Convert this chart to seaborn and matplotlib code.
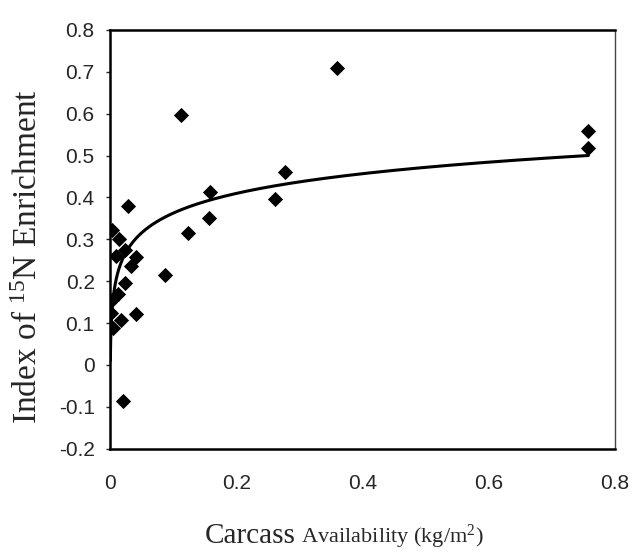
import numpy as np
import pandas as pd
import matplotlib
matplotlib.use("Agg")
import matplotlib.pyplot as plt
import seaborn as sns

# Dados (disponibilidade de carcaca x indice de enriquecimento 15N)
carcass = [0.360, 0.112, 0.758, 0.758, 0.277, 0.158, 0.261, 0.028, 0.157, 0.123,
           0.004, 0.015, 0.0095, 0.024, 0.042, 0.033, 0.024, 0.087, 0.013, 0.004,
           0.001, 0.041, 0.018, 0.005, 0.020]
enrichment = [0.710, 0.598, 0.559, 0.519, 0.460, 0.414, 0.397, 0.380, 0.351, 0.315,
              0.323, 0.300, 0.261, 0.275, 0.257, 0.237, 0.195, 0.215, 0.169, 0.156,
              0.124, 0.122, 0.108, 0.088, -0.085]

# Ajuste logaritmico (y = a + b ln x) estimado da curva
fit_a = 0.519
fit_b = 0.068
fit_xmin = 0.00056
fit_xmax = 0.758

x_ticks = [0, 0.2, 0.4, 0.6, 0.8]
x_labels = ["0", "0.2", "0.4", "0.6", "0.8"]
y_ticks = [-0.2, -0.1, 0, 0.1, 0.2, 0.3, 0.4, 0.5, 0.6, 0.7, 0.8]
y_labels = ["-0.2", "-0.1", "0", "0.1", "0.2", "0.3", "0.4", "0.5", "0.6", "0.7", "0.8"]

df = pd.DataFrame({"carcass": carcass, "enrichment": enrichment})

sns.set_style("white")
plt.rcParams["font.family"] = ["Liberation Sans", "DejaVu Sans"]
plt.rcParams["mathtext.fontset"] = "custom"
plt.rcParams["mathtext.rm"] = "Liberation Serif"
plt.rcParams["mathtext.it"] = "Liberation Serif:italic"
serif = "Liberation Serif"

fig = plt.figure(figsize=(6.32, 5.54), dpi=100)
ax = fig.add_axes([0.174, 0.190, 0.799, 0.756])

xs = np.geomspace(fit_xmin, fit_xmax, 400)
curve = pd.DataFrame({"x": xs, "y": fit_a + fit_b * np.log(xs)})
sns.lineplot(data=curve, x="x", y="y", color="black", lw=2.2, ax=ax)
sns.scatterplot(data=df, x="carcass", y="enrichment", marker="D", color="black",
                s=60, edgecolor="black", linewidth=0, ax=ax, zorder=3)

ax.set_xlim(0, 0.8)
ax.set_ylim(-0.2, 0.8)
ax.set_xticks(x_ticks)
ax.set_xticklabels(x_labels)
ax.set_yticks(y_ticks)
ax.set_yticklabels(y_labels)
ax.tick_params(axis="y", direction="out", length=3, width=1, pad=8, labelsize=15, left=True)
ax.tick_params(axis="x", direction="out", length=0, pad=18, labelsize=15, bottom=True)

for side in ["left", "bottom", "top"]:
    ax.spines[side].set_linewidth(1.8)
    ax.spines[side].set_color("black")
ax.spines["right"].set_linewidth(1.0)
ax.spines["right"].set_color("#444444")

# rotulo do eixo x com tamanhos diferentes, como no original
ax.set_xlabel("")
base_y = -0.224
t1 = ax.text(0.188, base_y, "Carcass", transform=ax.transAxes, family=serif,
             fontsize=21, ha="left", va="baseline")
ax.annotate(" Availability (kg/m$^{2}$)", xy=(1, base_y), xycoords=(t1, ax.transAxes),
            family=serif, fontsize=16, ha="left", va="baseline")

ax.set_ylabel("Index of $^{15}$N Enrichment", family=serif, fontsize=24)
ax.yaxis.set_label_coords(-0.13, 0.46)

fig.savefig("out.png", dpi=100)
